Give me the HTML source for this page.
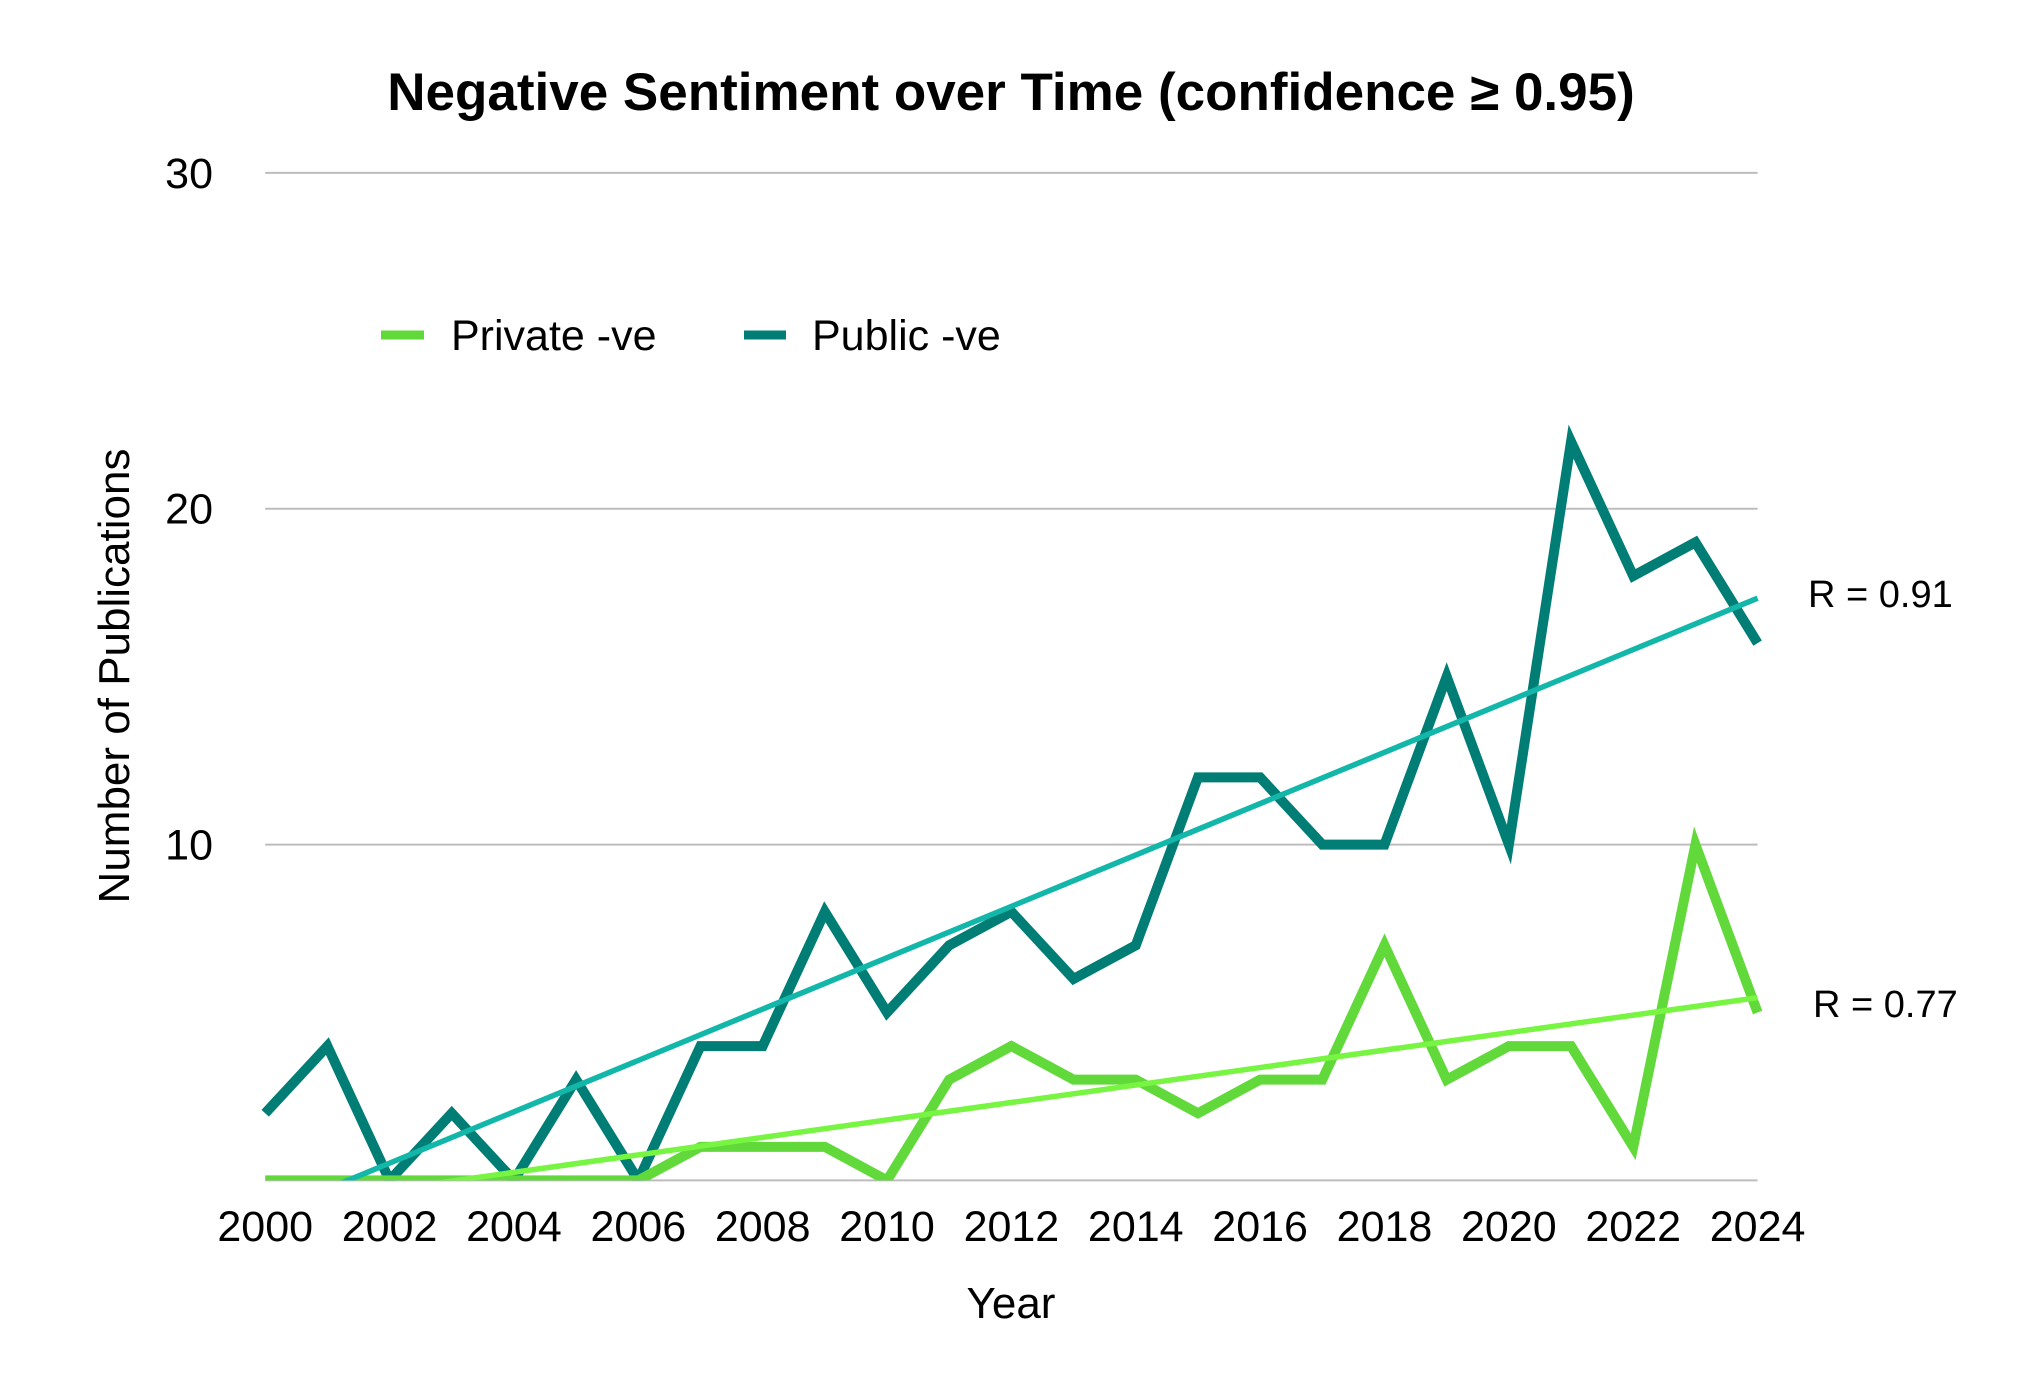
<!DOCTYPE html>
<html><head><meta charset="utf-8"><style>
html,body{margin:0;padding:0;background:#fff;}
svg text{font-family:"Liberation Sans",sans-serif;fill:#000;}
</style></head><body>
<svg id="chart" width="2036" height="1382" viewBox="0 0 2036 1382">
<defs><clipPath id="clip"><rect x="255" y="150" width="1520" height="1030.4"/></clipPath></defs>
<text x="1011" y="110" text-anchor="middle" font-size="53" font-weight="bold">Negative Sentiment over Time (confidence ≥ 0.95)</text>
<g id="grid"></g>
<g id="yticks"></g>
<g id="xticks"></g>
<g id="series" clip-path="url(#clip)"></g>
<text transform="translate(129,676) rotate(-90)" text-anchor="middle" font-size="44">Number of Publications</text>
<text x="1011" y="1318" text-anchor="middle" font-size="44">Year</text>
<g>
<g><line x1="381" y1="335" x2="424" y2="335" stroke="#62d93a" stroke-width="9"/><text x="451" y="350" font-size="43">Private -ve</text></g>
<g><line x1="744" y1="335" x2="786" y2="335" stroke="#007d74" stroke-width="9"/><text x="812" y="350" font-size="43">Public -ve</text></g>
</g>
<text x="1808" y="607" font-size="38">R = 0.91</text>
<text x="1813" y="1017" font-size="38">R = 0.77</text>
</svg>
<script>
const years=[2000,2001,2002,2003,2004,2005,2006,2007,2008,2009,2010,2011,2012,2013,2014,2015,2016,2017,2018,2019,2020,2021,2022,2023,2024];
const publicNeg=[2,4,0,2,0,3,0,4,4,8,5,7,8,6,7,12,12,10,10,15,10,22,18,19,16];
const privateNeg=[0,0,0,0,0,0,0,1,1,1,0,3,4,3,3,2,3,3,7,3,4,4,1,10,5];
const yTicks=[10,20,30];
const xTickLabels=[2000,2002,2004,2006,2008,2010,2012,2014,2016,2018,2020,2022,2024];
const NS="http://www.w3.org/2000/svg";
const X0=265.2,X1=1757.6,Y0=1180.4,Y30=172.9;
const xs=v=>X0+(v-2000)/24*(X1-X0);
const ys=v=>Y0-v/30*(Y0-Y30);
function mk(tag,attrs,parent){const e=document.createElementNS(NS,tag);for(const k in attrs)e.setAttribute(k,attrs[k]);parent.appendChild(e);return e;}
const grid=document.getElementById('grid'),yt=document.getElementById('yticks'),xt=document.getElementById('xticks'),ser=document.getElementById('series');
[0].concat(yTicks).forEach(v=>{
  const l=mk('line',{x1:X0,x2:X1,y1:ys(v),y2:ys(v),stroke:'#bdbdbd','stroke-width':2},grid);
  
  
});
yTicks.forEach(v=>{
  const t=mk('text',{x:213,y:ys(v)+15,'text-anchor':'end','font-size':43},yt);t.textContent=v;
  
  
});
xTickLabels.forEach(v=>{
  const t=mk('text',{x:xs(v),y:1241,'text-anchor':'middle','font-size':43},xt);t.textContent=v;
  
  
});
function fit(vals){const n=vals.length;let sx=0,sy=0,sxx=0,sxy=0;years.forEach((x,i)=>{sx+=x;sy+=vals[i];sxx+=x*x;sxy+=x*vals[i];});const b=(n*sxy-sx*sy)/(n*sxx-sx*sx);const a=(sy-b*sx)/n;return x=>a+b*x;}
function trend(vals,color,name){const f=fit(vals);const l=mk('line',{x1:xs(2000),y1:ys(f(2000)),x2:xs(2024),y2:ys(f(2024)),stroke:color,'stroke-width':5.5},ser);
  
  }
function series(vals,color,name){const p=mk('polyline',{points:vals.map((v,i)=>xs(years[i])+','+ys(v)).join(' '),fill:'none',stroke:color,'stroke-width':10,'stroke-linejoin':'miter','stroke-miterlimit':10},ser);
  
  }
series(publicNeg,'#007d74','public-line');
series(privateNeg,'#62d93a','private-line');
trend(publicNeg,'#13b7aa','public-trendline');
trend(privateNeg,'#78f442','private-trendline');
</script>
</body></html>
